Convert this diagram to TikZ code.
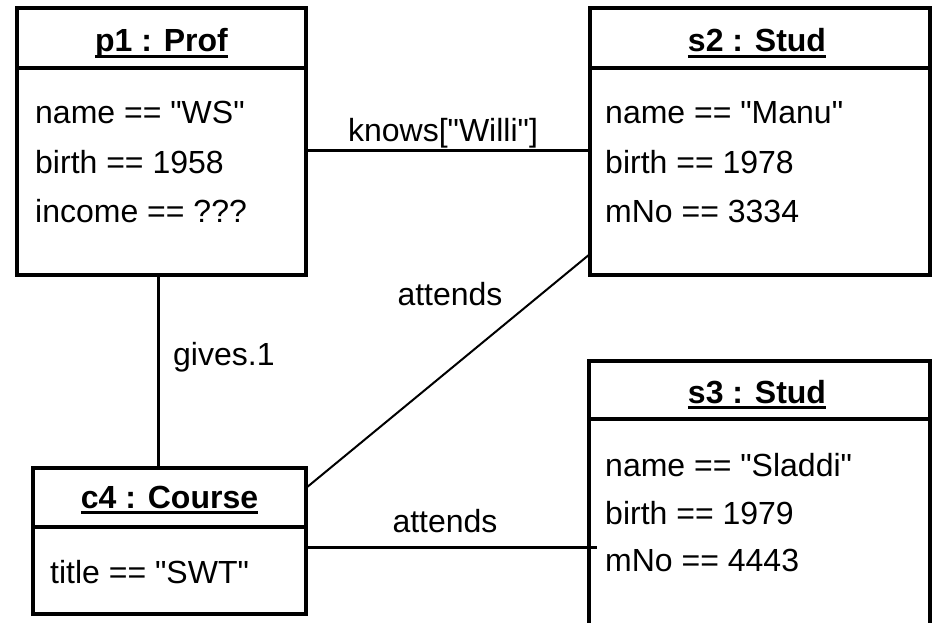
\documentclass[tikz,border=0pt]{standalone}
\usepackage{fontspec}
\newfontfamily\lsans{Liberation Sans}[Ligatures=NoCommon]
\newcommand\hdul[1]{\setbox0\hbox{#1}\rlap{\rule[-6pt]{\wd0}{2.6pt}}\box0}
\begin{document}
\begin{tikzpicture}[x=1pt,y=-1pt,
  objbox/.style={draw,line width=3.3pt,inner sep=0pt,outer sep=0pt},
  sepline/.style={line width=3.3pt},
  conn/.style={line width=3pt},
  diag/.style={line width=2pt},
  hdtext/.style={anchor=base,inner sep=0pt,font=\lsans\fontsize{32}{38}\selectfont\bfseries},
  attr/.style={anchor=base west,inner sep=0pt,font=\lsans\fontsize{32}{38}\selectfont},
  lbl/.style={anchor=base,inner sep=0pt,font=\lsans\fontsize{32}{38}\selectfont}]
\useasboundingbox (0,0) rectangle (934,623);
% boxes
\node[objbox,minimum width=289pt,minimum height=267pt] (p1) at (161.5,141.5) {};
\node[objbox,minimum width=340pt,minimum height=267pt] (s2) at (760,141.5) {};
\node[objbox,minimum width=341pt,minimum height=290pt] (s3) at (759.5,506) {};
\node[objbox,minimum width=273pt,minimum height=146pt] (c4) at (169.5,541) {};
% separator heights
\coordinate (sepA) at (0,68);
\coordinate (sepB) at (0,419);
\coordinate (sepC) at (0,527);
\draw[sepline] (p1.west |- sepA) -- (p1.east |- sepA);
\draw[sepline] (s2.west |- sepA) -- (s2.east |- sepA);
\draw[sepline] (s3.west |- sepB) -- (s3.east |- sepB);
\draw[sepline] (c4.west |- sepC) -- (c4.east |- sepC);
% headers
\node[hdtext] (p1h) at (161.5,52) {\hdul{p1 : Prof}};
\node[hdtext] (s2h) at (757,52) {\hdul{s2 : Stud}};
\node[hdtext] (s3h) at (757,403) {\hdul{s3 : Stud}};
\node[hdtext] (c4h) at (169.5,508) {\hdul{c4 : Course}};
% attributes
\node[attr] (p1a) at (35,124) {name == "WS"};
\node[attr] (p1b) at (35,173) {birth == 1958};
\node[attr] (p1c) at (35,222) {income == ???};
\node[attr] (s2a) at (605,124) {name == "Manu"};
\node[attr] (s2b) at (605,173) {birth == 1978};
\node[attr] (s2c) at (605,222) {mNo == 3334};
\node[attr] (s3a) at (605,476) {name == "Sladdi"};
\node[attr] (s3b) at (605,524) {birth == 1979};
\node[attr] (s3c) at (605,571) {mNo == 4443};
\node[attr] (c4a) at (50,583) {title == "SWT"};
% connectors
\coordinate (kY) at (0,150);
\draw[conn] (p1.east |- kY) -- (s2.west |- kY);
\node[lbl] (knows) at (443,142) {knows["Willi"]};
\coordinate (gX) at (158,0);
\draw[conn] (p1.south -| gX) -- (c4.north -| gX);
\node[attr] (gives) at (173,365) {gives.1};
\coordinate (aY1) at (0,488);
\coordinate (aY2) at (0,254);
\draw[diag] (c4.east |- aY1) -- (s2.west |- aY2);
\node[lbl] (att1) at (450,305) {attends};
\coordinate (aY3) at (0,547);
\coordinate (s3tick) at (597,547);
\draw[conn] (c4.east |- aY3) -- (s3tick);
\node[lbl] (att2) at (445,532) {attends};
\end{tikzpicture}
\end{document}
